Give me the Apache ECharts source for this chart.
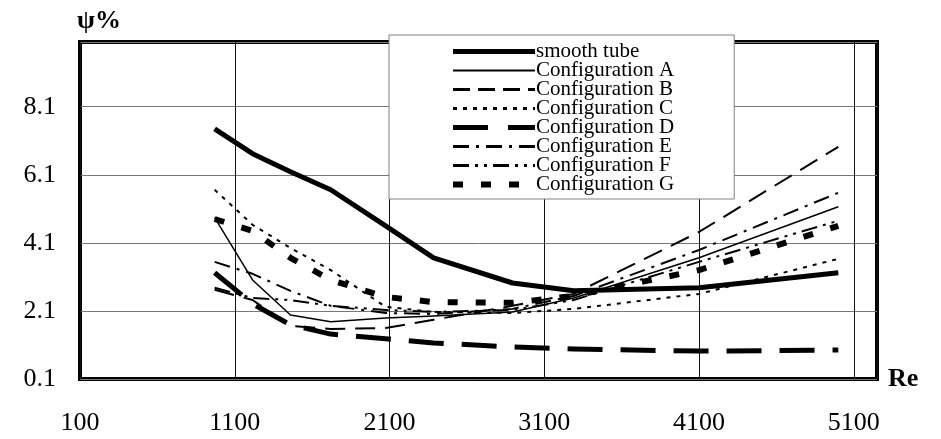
<!DOCTYPE html>
<html>
<head>
<meta charset="utf-8">
<script src="https://cdn.jsdelivr.net/npm/echarts@6/dist/echarts.min.js"></script>
<style>
html,body{margin:0;padding:0;background:#fff;}
#chart{width:941px;height:439px;}
</style>
</head>
<body>
<div id="chart"></div>
<script>
var reValues = [970, 1215, 1460, 1720, 2075, 2385, 2895, 3290, 4100, 5000];
var smoothTube = [7.45, 6.72, 6.19, 5.66, 4.60, 3.66, 2.92, 2.69, 2.78, 3.22];
var configA = [4.84, 3.01, 1.98, 1.78, 1.89, 1.95, 2.07, 2.48, 3.66, 5.16];
var configB = [2.72, 2.42, 1.66, 1.57, 1.60, 1.84, 2.25, 2.60, 4.42, 6.92];
var configC = [5.66, 4.63, 3.95, 3.30, 2.22, 2.07, 2.04, 2.16, 2.60, 3.63];
var configD = [3.22, 2.31, 1.69, 1.42, 1.28, 1.16, 1.04, 0.98, 0.92, 0.95];
var configE = [3.54, 3.19, 2.69, 2.25, 2.04, 2.01, 2.16, 2.54, 3.89, 5.57];
var configF = [2.78, 2.48, 2.42, 2.25, 2.13, 2.07, 2.13, 2.42, 3.54, 4.75];
var configG = [4.80, 4.45, 3.66, 3.01, 2.51, 2.36, 2.34, 2.54, 3.30, 4.60];
var xTickLabels = [100, 1100, 2100, 3100, 4100, 5100];
var yTickLabels = [0.1, 2.1, 4.1, 6.1, 8.1];
var seriesNames = ['smooth tube', 'Configuration A', 'Configuration B', 'Configuration C',
                   'Configuration D', 'Configuration E', 'Configuration F', 'Configuration G'];

var seriesValues = [smoothTube, configA, configB, configC, configD, configE, configF, configG];
var styles = [
  {width: 5, type: 'solid'},
  {width: 1.5, type: 'solid'},
  {width: 2, type: [20, 10]},
  {width: 2, type: [4, 6]},
  {width: 5, type: [35, 18]},
  {width: 2, type: [16, 7, 3, 7]},
  {width: 2, type: [16, 6, 3, 6, 3, 6]},
  {width: 6, type: [10, 18]}
];
var legendStyles = [
  {width: 5, type: 'solid'},
  {width: 2, type: 'solid'},
  {width: 3, type: [17, 8]},
  {width: 3, type: [4, 6]},
  {width: 5, type: [35, 20]},
  {width: 3, type: [16, 7, 3, 7]},
  {width: 3, type: [16, 6, 3, 6, 3, 6]},
  {width: 6, type: [10, 18]}
];

function pairs(vals) {
  return reValues.map(function (x, i) { return [x, vals[i]]; });
}

var series = seriesNames.map(function (name, i) {
  return {
    name: name,
    type: 'line',
    data: pairs(seriesValues[i]),
    symbol: 'none',
    showSymbol: false,
    animation: false,
    lineStyle: {color: '#000', width: styles[i].width, type: styles[i].type, cap: 'butt', join: 'round'},
    itemStyle: {color: '#000'},
    z: 3
  };
});

var legendData = seriesNames.map(function (name, i) {
  return {
    name: name,
    lineStyle: {color: '#000', width: legendStyles[i].width, type: legendStyles[i].type, cap: 'butt'},
    itemStyle: {opacity: 0, color: 'rgba(0,0,0,0)', borderWidth: 0}
  };
});

var serif = 'Liberation Serif, Times New Roman, serif';

var chart = echarts.init(document.getElementById('chart'), null, {renderer: 'canvas'});
chart.setOption({
  animation: false,
  backgroundColor: '#fff',
  title: {
    text: 'ψ%',
    left: 72, top: 3,
    textStyle: {fontFamily: serif, fontWeight: 'bold', fontSize: 26, color: '#000'}
  },
  grid: {
    left: 80, right: 64, top: 42, bottom: 60,
    show: true, borderColor: '#000', borderWidth: 4, backgroundColor: 'transparent'
  },
  legend: {
    orient: 'vertical',
    left: 389, top: 35,
    padding: [6, 60, 4, 61],
    itemWidth: 82, itemHeight: 19, itemGap: -2,
    backgroundColor: '#fff',
    borderColor: '#808080', borderWidth: 1,
    data: legendData,
    itemStyle: {opacity: 0, color: 'rgba(0,0,0,0)', borderWidth: 0},
    textStyle: {fontFamily: serif, fontSize: 21, color: '#000', padding: [0, 0, 0, -4]},
    z: 10
  },
  xAxis: {
    type: 'value',
    min: 100, max: 5250, interval: 1000,
    name: 'Re', nameLocation: 'end', nameGap: 11,
    nameTextStyle: {fontFamily: serif, fontWeight: 'bold', fontSize: 26, color: '#000', padding: [0, 0, 10, 0]},
    axisLine: {show: false},
    axisTick: {show: false},
    axisLabel: {
      margin: 31, fontFamily: serif, fontSize: 26, color: '#000',
      formatter: function (v) {
        var r = Math.round(v);
        return xTickLabels.indexOf(r) >= 0 ? String(r) : '';
      }
    },
    splitLine: {show: true, lineStyle: {color: '#111', width: 1}}
  },
  yAxis: {
    type: 'value',
    min: 0.1, max: 10, interval: 2,
    axisLine: {show: false},
    axisTick: {show: false},
    axisLabel: {
      margin: 24, fontFamily: serif, fontSize: 26, color: '#000',
      formatter: function (v) {
        var r = Math.round(v * 10) / 10;
        return yTickLabels.indexOf(r) >= 0 ? r.toFixed(1) : '';
      }
    },
    splitLine: {show: true, lineStyle: {color: '#777', width: 1}}
  },
  series: series
});
</script>
</body>
</html>
